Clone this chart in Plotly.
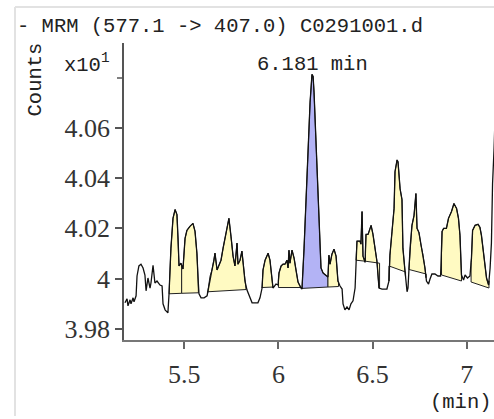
import numpy as np
import plotly.graph_objects as go

# Chromatogram trace (time in min, counts in units of x10^1)
time_min = [5.185, 5.196, 5.201, 5.212, 5.217, 5.228, 5.233, 5.244, 5.249, 5.259,
            5.270, 5.281, 5.291, 5.297, 5.307, 5.318, 5.323, 5.334, 5.344, 5.355,
            5.371, 5.382, 5.387, 5.398, 5.413, 5.419, 5.429, 5.440, 5.451, 5.461,
            5.467, 5.472, 5.482, 5.493, 5.504, 5.514, 5.530, 5.546, 5.557, 5.567,
            5.573, 5.578, 5.589, 5.605, 5.621, 5.626, 5.637, 5.647, 5.658, 5.663,
            5.674, 5.684, 5.695, 5.706, 5.716, 5.727, 5.737, 5.748, 5.759, 5.769,
            5.780, 5.785, 5.796, 5.806, 5.812, 5.822, 5.833, 5.849, 5.860, 5.891,
            5.902, 5.913, 5.918, 5.929, 5.945, 5.955, 5.966, 5.971, 5.987, 5.998,
            6.003, 6.014, 6.024, 6.035, 6.045, 6.051, 6.056, 6.061, 6.072, 6.083,
            6.093, 6.104, 6.120, 6.125, 6.136, 6.146, 6.157, 6.168, 6.178, 6.184,
            6.189, 6.199, 6.210, 6.221, 6.226, 6.237, 6.253, 6.263, 6.268, 6.274,
            6.284, 6.295, 6.306, 6.316, 6.327, 6.338, 6.343, 6.353, 6.364, 6.375,
            6.385, 6.396, 6.407, 6.412, 6.417, 6.433, 6.438, 6.444, 6.449, 6.460,
            6.465, 6.476, 6.486, 6.492, 6.502, 6.513, 6.523, 6.534, 6.550, 6.576,
            6.587, 6.592, 6.603, 6.614, 6.619, 6.630, 6.635, 6.646, 6.656, 6.661,
            6.672, 6.677, 6.683, 6.688, 6.693, 6.699, 6.709, 6.720, 6.730, 6.736,
            6.746, 6.757, 6.768, 6.778, 6.786, 6.797, 6.805, 6.815, 6.831, 6.847,
            6.861, 6.866, 6.869, 6.877, 6.892, 6.903, 6.919, 6.932, 6.946, 6.956,
            6.964, 6.972, 6.983, 6.991, 7.004, 7.017, 7.025, 7.031, 7.044, 7.060,
            7.070, 7.078, 7.092, 7.105, 7.116, 7.124, 7.131, 7.137, 7.145, 7.150]

counts_x10 = [3.9903, 3.9919, 3.9891, 3.9915, 3.9899, 3.9923, 3.9907, 3.9931, 4.0010, 4.0050,
              4.0057, 4.0042, 4.0014, 3.9951, 4.0002, 3.9962, 3.9982, 4.0053, 3.9982, 3.9990,
              3.9974, 3.9970, 3.9899, 3.9875, 3.9863, 3.9939, 4.0121, 4.0240, 4.0275, 4.0255,
              4.0160, 4.0050, 4.0061, 4.0038, 4.0160, 4.0192, 4.0208, 4.0220, 4.0188, 4.0101,
              4.0002, 3.9939, 3.9923, 3.9923, 3.9931, 3.9951, 4.0010, 4.0034, 4.0073, 4.0101,
              4.0034, 4.0050, 4.0073, 4.0121, 4.0160, 4.0208, 4.0240, 4.0168, 4.0089, 4.0050,
              4.0141, 4.0057, 4.0073, 4.0109, 4.0073, 3.9990, 3.9954, 3.9923, 3.9903, 3.9903,
              3.9923, 3.9962, 4.0034, 4.0073, 4.0101, 4.0073, 4.0002, 3.9962, 3.9978, 3.9974,
              4.0022, 4.0050, 4.0057, 4.0057, 4.0073, 4.0042, 4.0113, 4.0061, 4.0113, 4.0081,
              4.0034, 3.9986, 3.9962, 3.9958, 4.0121, 4.0307, 4.0545, 4.0703, 4.0814, 4.0806,
              4.0743, 4.0545, 4.0347, 4.0149, 4.0042, 4.0022, 4.0014, 4.0006, 4.0093, 4.0057,
              4.0097, 4.0117, 4.0089, 3.9990, 3.9970, 3.9958, 3.9899, 3.9875, 3.9887, 3.9875,
              3.9899, 3.9911, 3.9962, 4.0073, 4.0149, 4.0149, 4.0137, 4.0267, 4.0089, 4.0065,
              4.0176, 4.0176, 4.0196, 4.0212, 4.0176, 4.0121, 4.0069, 3.9962, 3.9958, 3.9958,
              3.9990, 4.0093, 4.0188, 4.0279, 4.0426, 4.0473, 4.0465, 4.0358, 4.0315, 4.0121,
              4.0030, 3.9990, 3.9947, 3.9962, 4.0038, 4.0121, 4.0212, 4.0251, 4.0339, 4.0200,
              4.0184, 4.0133, 4.0093, 4.0042, 3.9990, 3.9978, 3.9998, 4.0018, 4.0018, 4.0010,
              4.0010, 4.0101, 4.0188, 4.0200, 4.0200, 4.0240, 4.0267, 4.0299, 4.0279, 4.0240,
              4.0172, 4.0014, 3.9994, 4.0014, 4.0002, 4.0010, 4.0081, 4.0192, 4.0212, 4.0216,
              4.0204, 4.0172, 4.0081, 4.0002, 3.9974, 4.0042, 4.0141, 4.0378, 4.0517, 4.0636]

# Integrated peaks: start/end time and baseline level at start/end
peak_start = [5.419, 5.486, 5.623, 5.913, 6.000, 6.122, 6.263, 6.412, 6.462, 6.587, 6.693, 6.866, 7.023]
peak_end = [5.486, 5.575, 5.828, 5.974, 6.122, 6.263, 6.319, 6.460, 6.537, 6.675, 6.784, 6.972, 7.118]
base_start = [3.9939, 3.9941, 3.9947, 3.9964, 3.9964, 3.9962, 3.9966, 4.0073, 4.0069, 4.0050, 4.0036, 4.0014, 3.9986]
base_end = [3.9941, 3.9943, 3.9956, 3.9966, 3.9964, 3.9966, 3.9968, 4.0069, 4.0061, 4.0026, 4.0018, 3.9990, 3.9962]
peak_is_target = [False, False, False, False, False, True, False, False, False, False, False, False, False]

x_ticks = [5.5, 6, 6.5, 7]
x_ticktext = ["5.5", "6", "6.5", "7"]
y_ticks = [3.98, 4.00, 4.02, 4.04, 4.06]
y_ticktext = ["3.98", "4", "4.02", "4.04", "4.06"]
y_minor_unlabeled = [4.08]

title_text = "- MRM (577.1 -> 407.0) C0291001.d"
peak_label = "6.181 min"
peak_label_time = 6.181

W, H = 494, 419
t_arr = np.array(time_min)
c_arr = np.array(counts_x10)

fig = go.Figure()

for s, e, bs, be, tgt in zip(peak_start, peak_end, base_start, base_end, peak_is_target):
    mask = (t_arr > s) & (t_arr < e)
    ys_s = float(np.interp(s, t_arr, c_arr))
    ys_e = float(np.interp(e, t_arr, c_arr))
    xs = [s] + list(t_arr[mask]) + [e, e, s, s]
    ys = [ys_s] + list(c_arr[mask]) + [ys_e, be, bs, ys_s]
    fig.add_trace(go.Scatter(
        x=xs, y=ys, mode="lines", fill="toself",
        fillcolor="#b3b3f5" if tgt else "#fffac2",
        line=dict(color="#222222", width=1),
        hoverinfo="skip", showlegend=False))

fig.add_trace(go.Scatter(x=time_min, y=counts_x10, mode="lines",
                         line=dict(color="#111111", width=1.3),
                         showlegend=False))

x_dom = [124 / W, 1.0]
y_dom = [(H - 342.7) / H, (H - 43) / H]

tick_font = dict(family="Liberation Serif", size=26, color="#333333")
txt_font = dict(family="Liberation Mono", size=20.5, color="#222222")

shapes = [
    dict(type="line", xref="paper", yref="paper", x0=15 / W, x1=15 / W, y0=0, y1=(H - 7) / H,
         line=dict(color="#e2e2e2", width=2)),
    dict(type="line", xref="paper", yref="paper", x0=15 / W, x1=1, y0=(H - 7) / H, y1=(H - 7) / H,
         line=dict(color="#e2e2e2", width=2)),
]
for v in y_minor_unlabeled:
    shapes.append(dict(type="line", xref="paper", yref="y", x0=(124 - 7) / W, x1=124 / W,
                       y0=v, y1=v, line=dict(color="#555555", width=1.5)))

fig.update_layout(
    width=W, height=H, autosize=False,
    margin=dict(l=0, r=0, t=0, b=0),
    paper_bgcolor="white", plot_bgcolor="white",
    xaxis=dict(domain=x_dom, range=[5.1798, 7.1447], tickvals=x_ticks, ticktext=x_ticktext,
               ticks="outside", ticklen=7, tickwidth=1.5, tickcolor="#666666",
               showline=True, linecolor="#777777", linewidth=1.5, ticklabelstandoff=3,
               showgrid=False, zeroline=False, tickfont=tick_font),
    yaxis=dict(domain=y_dom, range=[3.97537, 4.09406], tickvals=y_ticks, ticktext=y_ticktext,
               ticks="outside", ticklen=7, tickwidth=1.5, tickcolor="#555555",
               showline=True, linecolor="#555555", linewidth=1.5,
               showgrid=False, zeroline=False, tickfont=tick_font),
    shapes=shapes,
    annotations=[
        dict(text=title_text, xref="paper", yref="paper", x=15 / W, y=(H - 27) / H,
             xanchor="left", yanchor="middle", showarrow=False, font=txt_font),
        dict(text="Counts", xref="paper", yref="paper", x=35 / W, y=(H - 80) / H,
             xanchor="center", yanchor="middle", textangle=-90, showarrow=False, font=txt_font),
        dict(text="x10<sup>1</sup>", xref="paper", yref="paper", x=62 / W, y=(H - 64) / H,
             xanchor="left", yanchor="middle", showarrow=False, font=txt_font),
        dict(text=peak_label, xref="x", yref="paper", x=peak_label_time, y=(H - 65) / H,
             xanchor="center", yanchor="middle", showarrow=False, font=txt_font),
        dict(text="(min)", xref="paper", yref="paper", x=1.0, y=(H - 405) / H,
             xanchor="right", yanchor="middle", showarrow=False, font=txt_font),
    ],
)

fig.write_html("out.html")
